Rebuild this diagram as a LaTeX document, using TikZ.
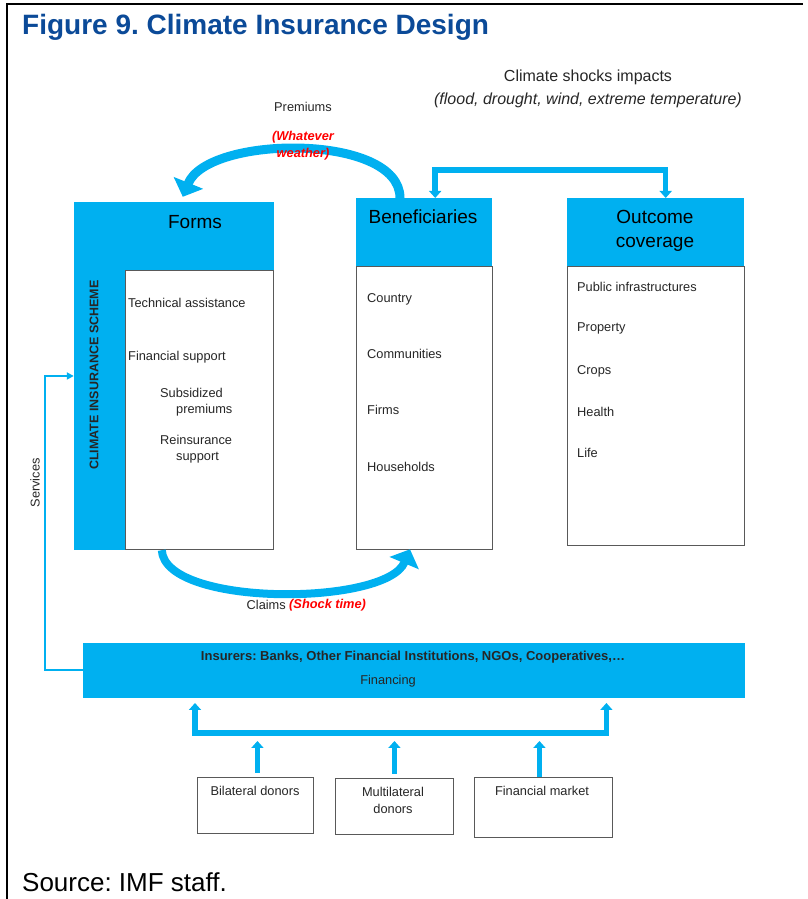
\documentclass[tikz,border=0pt]{standalone}
\usepackage{fontspec}
\setmainfont{Liberation Sans}
\usetikzlibrary{arrows.meta,positioning,calc}
\definecolor{insblue}{RGB}{0,176,240}
\definecolor{titleblue}{RGB}{11,74,152}
\definecolor{textgray}{RGB}{38,38,38}
\tikzset{
  bluebox/.style={fill=insblue, draw=none, inner sep=0pt},
  whitebox/.style={fill=white, draw=black!65, line width=0.9pt, inner sep=0pt},
  headtxt/.style={inner sep=0pt, font=\fontsize{19}{23}\selectfont, text=black},
  item/.style={anchor=west, inner sep=0pt, font=\fontsize{12.8}{15}\selectfont, text=textgray},
  label/.style={inner sep=0pt, font=\fontsize{12.8}{15}\selectfont, text=textgray},
  redtxt/.style={inner sep=0pt, font=\bfseries\itshape\fontsize{12.8}{15}\selectfont, text=red},
  linkarrow/.style={draw=insblue, line width=5.5pt, >={Triangle[width=12pt,length=7pt]}},
  curvearrow/.style={draw=insblue, line width=9pt, -{Triangle[width=31pt,length=15pt]}},
  svcline/.style={draw=insblue, line width=2pt, -{Triangle[width=7pt,length=7pt]}}
}
\frenchspacing
\begin{document}
\begin{tikzpicture}[x=1pt,y=1pt]
\useasboundingbox (0,0) rectangle (807,899);
% frame and title
\draw[line width=2pt] (7,0) -- (7,895) -- (803,895);
\node[anchor=west, inner sep=0pt, font=\bfseries\fontsize{28}{32}\selectfont, text=titleblue] (title) at (22,872) {Figure 9. Climate Insurance Design};
\node[anchor=west, inner sep=0pt, font=\fontsize{26}{30}\selectfont, text=black] (source) at (22,17) {Source: IMF staff.};
% shocks
\node[inner sep=0pt, font=\fontsize{16}{19}\selectfont, text=textgray] (shock) at (588,822) {Climate shocks impacts};
\node[inner sep=0pt, font=\itshape\fontsize{16}{19}\selectfont, text=textgray] (shock2) at (588,799) {(flood, drought, wind, extreme temperature)};
% forms
\node[bluebox, minimum width=200pt, minimum height=348pt] (forms) at (174,523) {};
\node[whitebox, anchor=south east, minimum width=148pt, minimum height=279pt] (formsin) at (forms.south east) {};
\node[headtxt] (formstxt) at (195,677) {Forms};
\node[inner sep=0pt, rotate=90, font=\bfseries\fontsize{12.5}{15}\selectfont, text=black!85] (scheme) at (94,524) {CLIMATE INSURANCE SCHEME};
\node[item] (f1) at (128,596) {Technical assistance};
\node[item] (f2) at (128,542) {Financial support};
\node[item] (f3) at (160,506) {Subsidized};
\node[item] (f4) at (176,489) {premiums};
\node[item] (f5) at (160,459) {Reinsurance};
\node[item] (f6) at (176,441) {support};
% beneficiaries
\node[bluebox, anchor=north west, minimum width=136pt, minimum height=68pt] (benef) at (356,701) {};
\node[whitebox, anchor=north west, minimum width=136pt, minimum height=283pt] (benefbox) at (benef.south west) {};
\node[headtxt] (beneftxt) at (423,682) {Beneficiaries};
\node[item] (b1) at (367,600) {Country};
\node[item] (b2) at (367,545) {Communities};
\node[item] (b3) at (367,489) {Firms};
\node[item] (b4) at (367,432) {Households};
% outcome coverage
\node[bluebox, anchor=north west, minimum width=177pt, minimum height=68pt] (outcome) at (567,701) {};
\node[whitebox, anchor=north west, minimum width=177pt, minimum height=279pt] (outcomebox) at (outcome.south west) {};
\node[headtxt] (outcometxt) at (655,682) {Outcome};
\node[headtxt] (outcometxt2) at (655,655) {coverage};
\node[item] (o1) at (577,612) {Public infrastructures};
\node[item] (o2) at (577,571) {Property};
\node[item] (o3) at (577,528) {Crops};
\node[item] (o4) at (577,487) {Health};
\node[item] (o5) at (577,446) {Life};
% premiums and claims
\draw[curvearrow] ([xshift=44pt]benef.north west) .. controls +(0,65) and +(25,62) .. ([xshift=109pt,yshift=5pt]forms.north west);
\draw[curvearrow, line width=8pt] ([xshift=88pt]forms.south west) .. controls +(3,-57) and +(-24,-57) .. ([xshift=54pt,yshift=1pt]benefbox.south west);
\node[label] (prem) at (303,792) {Premiums};
\node[redtxt] (prem2) at (303,762) {(Whatever};
\node[redtxt] (prem3) at (303,745) {weather)};
\node[label, anchor=east] (claims) at (286,294) {Claims};
\node[redtxt, anchor=west] (claims2) at (289,294) {(Shock time)};
\draw[linkarrow, <->] ([xshift=11pt]benef.north) -- ++(0,28) -| ([xshift=10pt]outcome.north);
% insurers
\node[bluebox, anchor=south west, minimum width=662pt, minimum height=55pt] (insurers) at (83,201) {};
\node[inner sep=0pt, font=\bfseries\fontsize{13}{15}\selectfont, text=black!85] (instxt) at (413,242) {Insurers: Banks, Other Financial Institutions, NGOs, Cooperatives,\dots};
\node[label] (fintxt) at (388,218) {Financing};
\draw[svcline] (insurers.west) -- ++(-38,0) |- (forms.west);
\node[label, rotate=90] (serv) at (35,416) {Services};
% donors
\node[whitebox, anchor=north west, minimum width=116pt, minimum height=56pt] (bilat) at (197,122) {};
\node[whitebox, anchor=north west, minimum width=118pt, minimum height=56pt] (multi) at (335,121) {};
\node[whitebox, anchor=north west, minimum width=138pt, minimum height=60pt] (market) at (474,122) {};
\node[label] (bilattxt) at (255,108) {Bilateral donors};
\node[label, align=center] (multitxt) at (393,99) {Multilateral\\[2pt]donors};
\node[label] (markettxt) at (542,108) {Financial market};
\draw[linkarrow, <->] ([xshift=112pt,yshift=-5pt]insurers.south west) -- ++(0,-30) -| ([xshift=-139pt,yshift=-5pt]insurers.south east);
\draw[linkarrow, ->] ([xshift=2pt,yshift=4pt]bilat.north) -- ++(0,32);
\draw[linkarrow, ->] ([yshift=4pt]multi.north) -- ++(0,33);
\draw[linkarrow, ->] ([xshift=-4pt]market.north) -- ++(0,36);
\end{tikzpicture}
\end{document}
